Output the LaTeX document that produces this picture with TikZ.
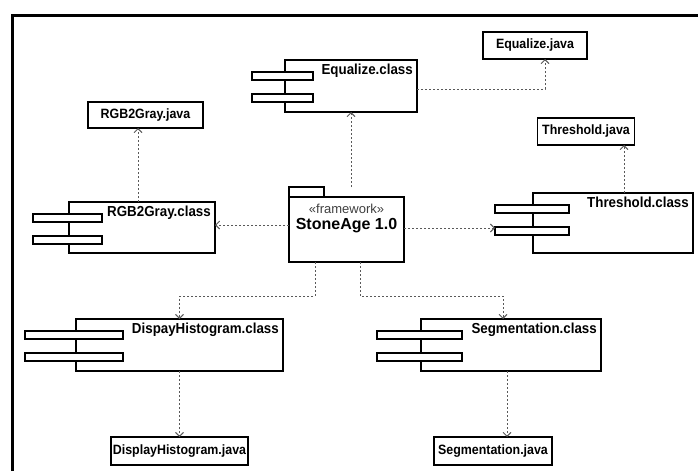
\documentclass[tikz,border=0pt]{standalone}
\usepackage{fontspec}
\setmainfont{Liberation Sans}[FakeStretch=0.92]
\newfontfamily\pkgfont{Liberation Sans}
\usetikzlibrary{arrows.meta,calc,fit}

\tikzset{
  box/.style={draw=black, line width=1.8pt, fill=white, inner sep=0pt, outer sep=0pt},
  javabox/.style={box, font=\bfseries\fontsize{13.5}{15}\selectfont},
  compbody/.style={box},
  bar/.style={box, line width=1.6pt},
  complabel/.style={font=\bfseries\fontsize{14.5}{16}\selectfont, inner sep=0pt},
  dep/.style={draw=black!65, line width=0.95pt, dash pattern=on 2pt off 2pt,
    -{Straight Barb[length=4pt,width=8pt,line width=0.9pt]}},
}

% component: name, centre x, centre y, width, height, bar overhang, bar width, label
\newcommand\umlcomp[8]{%
  \node[compbody, minimum width=#4pt, minimum height=#5pt] (#1) at (#2,#3) {};
  \node[bar, fit={($(#1.north west)+(-#6,12)$) ($(#1.north west)+(#7-#6,20)$)}] (#1-b1) {};
  \node[bar, fit={($(#1.north west)+(-#6,34)$) ($(#1.north west)+(#7-#6,42)$)}] (#1-b2) {};
  \node[complabel, anchor=north east] (#1-lbl) at ($(#1.north east)+(-4,4)$) {#8};
}

\begin{document}
\begin{tikzpicture}[x=1pt, y=-1pt]
  \useasboundingbox (0,0) rectangle (698,471);
  \fill[white] (0,0) rectangle (698,471);

  % outer frame (open to the right and bottom)
  \draw[line width=3pt] (12,471) -- (12,15) -- (698,15);

  % source files
  \node[javabox, minimum width=104pt, minimum height=27pt] (eqj)  at (535,45.5)  {Equalize.java};
  \node[javabox, minimum width=115pt, minimum height=26pt] (rgbj) at (145.5,115) {RGB2Gray.java};
  \node[javabox, minimum width=97pt,  minimum height=27pt] (thj)  at (586,131.5) {Threshold.java};
  \node[javabox, minimum width=137pt, minimum height=28pt] (dhj)  at (179.5,451) {DisplayHistogram.java};
  \node[javabox, minimum width=118pt, minimum height=28pt] (segj) at (493,451)   {Segmentation.java};

  % class components
  \umlcomp{eqc}{351}{86}{132}{52}{33}{61}{Equalize.class}
  \umlcomp{rgbc}{142}{227.5}{146}{51}{36}{69}{RGB2Gray.class}
  \umlcomp{thc}{613}{223}{160}{60}{38}{74}{Threshold.class}
  \umlcomp{dhc}{179.5}{345}{207}{52}{51}{98}{DispayHistogram.class}
  \umlcomp{segc}{511}{345}{180}{52}{44}{85}{Segmentation.class}

  % framework package
  \node[box, minimum width=35pt, minimum height=10pt] (pkgtab) at (306.5,192) {};
  \node[box, minimum width=115pt, minimum height=65pt] (pkg) at (346.5,229.5) {};
  \node[font=\pkgfont\fontsize{13}{15}\selectfont, text=black!75, inner sep=0pt]
    (pkgst) at ($(pkg.north)+(0,11.5)$) {«framework»};
  \node[font=\pkgfont\bfseries\fontsize{16}{18}\selectfont, inner sep=0pt]
    (pkgname) at ($(pkg.north)+(0,29)$) {StoneAge 1.0};

  % dependencies
  \draw[dep] (pkgtab.north -| eqc.south) -- (eqc.south);
  \draw[dep] ($(pkg.west)+(0,-4.5)$) coordinate (pl) -- (pl -| rgbc.east);
  \draw[dep] ($(pkg.east)+(0,-1.5)$) coordinate (pr) -- (pr -| thc-b2.west);
  \draw[dep] ($(rgbc.north)+(-4,0)$) coordinate (rn) -- (rn |- rgbj.south);
  \draw[dep] ($(thc.north)+(11,0)$) coordinate (tn) -- (tn |- thj.south);
  \draw[dep] ($(eqc.east)+(0,3)$) -| ($(eqj.south)+(10,0)$);
  \draw[dep] ($(pkg.south)+(-31.5,0)$) -- ++(0,34) -| (dhc.north);
  \draw[dep] ($(pkg.south)+(13.5,0)$) -- ++(0,34) -| ($(segc.north)+(-8,0)$);
  \draw[dep] (dhc.south) -- (dhj.north);
  \draw[dep] ($(segc.south)+(-4,0)$) coordinate (sn) -- (sn |- segj.north);
\end{tikzpicture}
\end{document}
